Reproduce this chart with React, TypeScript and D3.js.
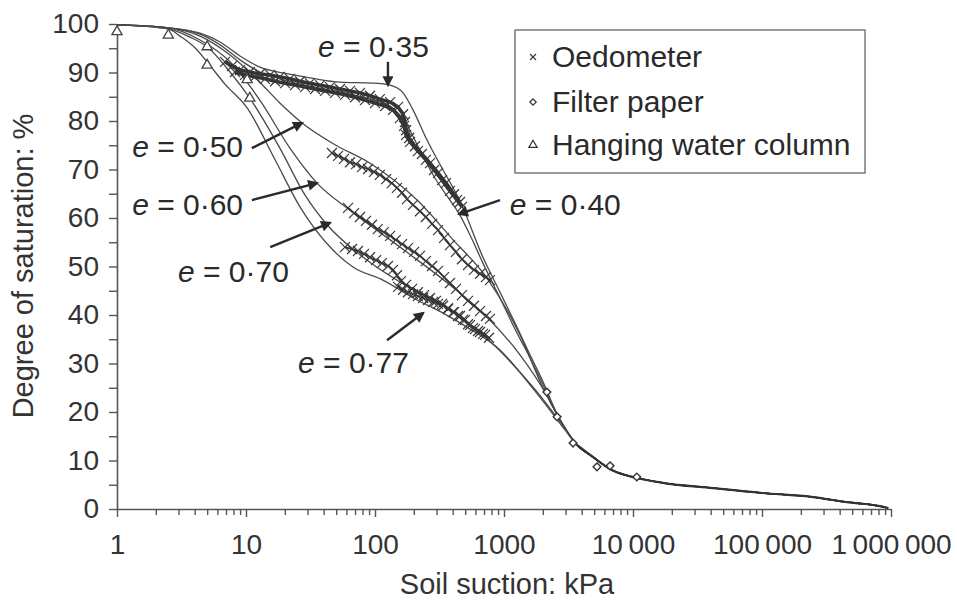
import React, { useEffect, useRef } from "react";
import * as d3 from "d3";

// [suction kPa, degree of saturation %]
const fit035 = [[1,99.8],[2.5,99.2],[4.4,98.1],[6.29,96.3],[8.98,93.4],[12.8,91.1],[19.4,89.9],[31.3,88.9],[53.5,88.0],[96.5,87.8],[131,87.4],[165,85.8],[197,82.3],[253,76.1],[337,69.9],[456,63.5],[687,51.9],[931,44.7],[1260,37.5],[1590,31.8],[2010,26.2],[2400,21.4],[2870,17.3],[3680,13.2]];
const fit040 = [[1,99.8],[2.5,99.2],[4.4,97.9],[6.29,95.7],[8.98,92.6],[12.8,90.1],[19.4,88.5],[31.3,87.2],[53.5,86.0],[91.5,84.5],[131,83.1],[171,79.8],[223,74.0],[292,68.2],[381,63.7],[446,61.0],[545,56.5],[687,50.7],[931,43.5],[1260,36.3],[1590,31.2],[2010,25.6],[2400,21.0],[2870,17.3],[3680,13.2]];
const fit050 = [[1,99.8],[2.5,99.2],[4.4,97.5],[7.52,93.6],[12.8,88.0],[18.3,83.7],[27.2,79.6],[49,75.1],[91.5,71.3],[212,63.7],[403,55.5],[738,47.6],[1330,35.9],[2010,24.9],[2720,18.4],[3680,13.2]];
const fit060 = [[1,99.8],[2.5,99.2],[4.4,96.7],[7.52,92.2],[12.8,84.3],[21.9,74.4],[35.5,67.2],[64,61.6],[156,54.0],[381,46.2],[738,39.6],[1330,31.8],[2080,24.1],[2720,18.4],[3680,13.2]];
const fit070 = [[1,99.8],[2.5,99.0],[3.68,97.3],[4.99,95.3],[7.52,90.1],[10.7,84.7],[18.3,74.4],[28.7,64.7],[42.5,58.6],[76.5,52.4],[156,46.8],[319,42.5],[687,35.9],[1330,28.2],[2080,22.1],[2720,18.0],[3680,13.2]];
const fit077 = [[1,99.8],[2.5,99.0],[3.08,97.5],[4.02,95.1],[4.99,92.2],[6.87,87.6],[10.2,82.7],[16.8,72.0],[26.2,62.3],[47.2,53.4],[67.5,49.9],[115,47.2],[212,43.1],[337,40.4],[517,37.5],[931,32.8],[1590,25.6],[2270,20.4],[2970,16.3],[3680,13.2]];
// common high-suction branch of all fitted curves
const fitTail = [[4900,10.7],[6900,8.0],[10700,6.4],[17000,5.4],[41700,4.3],[100000,3.3],[242000,2.5],[456000,1.4],[820000,0.6],[950000,0.2]];

const oed035 = [[6.87,92.2],[7.79,91.3],[8.98,90.5],[10.7,90.1],[12.8,89.7],[15.4,89.5],[18.3,89.1],[21.9,88.7],[26.2,88.2],[31.3,87.8],[37.5,87.4],[44.8,87.0],[53.5,86.6],[64.0,86.2],[76.5,85.8],[91.5,85.2],[109,84.5],[131,83.9],[151,82.9],[165,81.4],[171,79.8],[174,78.1],[184,76.5],[204,74.8],[231,73.2],[267,71.3],[308,69.3],[355,67.2],[410,64.9],[456,63.3]];
const oed040 = [[8.22,90.1],[9.83,89.5],[11.7,89.1],[14.0,88.7],[16.8,88.2],[20.1,87.8],[24.0,87.4],[28.7,87.0],[34.3,86.6],[41.0,86.2],[49.0,85.8],[58.5,85.4],[70.0,84.9],[83.6,84.3],[100,83.7],[120,83.1],[138,82.3],[156,80.6],[168,79.0],[174,77.1],[187,75.7],[215,73.8],[248,72.0],[287,69.9],[331,67.8],[381,65.6],[432,63.7],[472,62.3]];
const oed050 = [[46.4,73.4],[51.7,72.8],[57.5,72.2],[64.0,71.5],[71.3,71.1],[79.3,70.5],[88.3,70.1],[98.2,69.5],[109,68.9],[122,68.0],[135,67.2],[148,66.2],[162,65.2],[177,63.9],[197,62.7],[223,61.4],[248,60.2],[277,58.8],[308,57.5],[343,55.9],[381,54.4],[424,53.0],[472,51.5],[526,50.3],[585,49.3],[652,48.5],[725,47.8],[778,47.2]];
const oed060 = [[61.8,62.1],[68.8,61.0],[76.5,60.2],[85.1,59.4],[94.8,58.6],[105,57.7],[117,57.1],[131,56.3],[145,55.5],[162,54.6],[180,53.8],[201,53.0],[223,52.2],[248,51.1],[277,50.1],[308,49.1],[343,47.8],[381,46.6],[424,45.4],[472,44.1],[526,42.9],[585,41.9],[652,40.8],[725,39.8],[778,39.2]];
const oed070 = [[58.5,54.0],[66.4,53.6],[73.8,53.2],[82.2,52.6],[91.5,51.9],[102,51.3],[113,50.7],[126,50.1],[138,49.3],[148,48.2],[159,47.0],[174,46.2],[194,45.4],[215,44.7],[240,44.1],[267,43.5],[297,42.9],[331,42.3],[368,41.4],[410,40.6],[456,39.8],[499,39.0],[545,37.9],[596,37.1],[652,36.5],[713,35.9],[765,35.3]];
const oed077 = [[151,45.8],[165,45.2],[180,44.7],[197,44.3],[215,43.9],[236,43.5],[258,43.1],[282,42.7],[308,42.3],[337,41.9],[368,41.2],[403,40.6],[440,39.8],[481,39.0],[526,38.1],[575,37.3],[629,36.7],[687,36.1]];
const filterPaper = [[2150,24.1],[2580,19.0],[3430,13.6],[5260,8.7],[6640,8.9],[10700,6.6]];
const hangingColumn = [[1,98.4],[2.5,97.7],[5.0,95.3],[5.0,91.5],[10.2,88.5],[10.7,84.7]];

// void ratio call-outs: label, text start, arrow tail, arrow tip (data units)
const annLabels = ["0·35", "0·40", "0·50", "0·60", "0·70", "0·77"];
const annText = [[36.2,93.2],[1110,60.6],[1.31,72.6],[1.31,60.6],[2.97,46.8],[25.3,28.0]];
const annFrom = [[126,92.2],[931,63.7],[11.1,74.4],[11.1,63.7],[15.4,54.0],[124,34.8]];
const annTo = [[126,87.4],[448,60.8],[27.2,79.6],[35.5,67.2],[44.8,59.0],[236,40.4]];

const legendLabels = ["Oedometer", "Filter paper", "Hanging water column"];

export default function App() {
  const ref = useRef<SVGSVGElement>(null);

  useEffect(() => {
    const svg = d3.select(ref.current);
    svg.selectAll("*").remove();

    const font = "'Liberation Sans', Arial, sans-serif";
    const ink = "#2a2a2a";
    const x = d3.scaleLog().domain([1, 1e6]).range([117, 891]);
    const y = d3.scaleLinear().domain([0, 100]).range([509, 24]);

    svg.append("rect").attr("width", 957).attr("height", 601).attr("fill", "#fff");

    const defs = svg.append("defs");
    defs.append("marker")
      .attr("id", "ah")
      .attr("viewBox", "0 0 10 10")
      .attr("refX", 8)
      .attr("refY", 5)
      .attr("markerWidth", 13)
      .attr("markerHeight", 11)
      .attr("markerUnits", "userSpaceOnUse")
      .attr("orient", "auto")
      .append("path")
      .attr("d", "M0,0L10,5L0,10z")
      .attr("fill", ink);

    // axes
    const gy = svg.append("g")
      .attr("transform", `translate(${x(1)},0)`)
      .call(d3.axisLeft(y)
        .tickValues(d3.range(0, 101, 5))
        .tickSize(8)
        .tickSizeOuter(0)
        .tickPadding(10)
        .tickFormat((d: any) => (d % 10 === 0 ? String(d) : "")));

    const decades = [1, 10, 100, 1000, 10000, 100000];
    const xTicks = decades.flatMap(d => d3.range(1, 10).map(k => k * d)).concat([1e6]);
    const isMajor = (v: number) => Math.abs(Math.log10(v) - Math.round(Math.log10(v))) < 1e-9;
    const gx = svg.append("g")
      .attr("transform", `translate(0,${y(0)})`)
      .call(d3.axisBottom(x)
        .tickValues(xTicks)
        .tickSize(8)
        .tickSizeOuter(0)
        .tickPadding(17)
        .tickFormat((d: any) => {
          if (!isMajor(d)) return "";
          return d >= 10000 ? d3.format(",")(d).replace(/,/g, "\u2009") : String(d);
        }));
    gx.selectAll(".tick line").attr("y2", (d: any) => (isMajor(d) ? 8 : 6));

    [gx, gy].forEach(g => {
      g.select(".domain").attr("stroke", "#555").attr("stroke-width", 1.6);
      g.selectAll(".tick line").attr("stroke", "#555").attr("stroke-width", 1.4);
      g.selectAll(".tick text").attr("fill", "#333").style("font-family", font).style("font-size", "28px");
    });

    svg.append("text")
      .attr("transform", "translate(33,266) rotate(-90)")
      .attr("text-anchor", "middle")
      .attr("fill", "#333")
      .style("font-family", font)
      .style("font-size", "29px")
      .text("Degree of saturation: %");

    svg.append("text")
      .attr("x", 507)
      .attr("y", 594)
      .attr("text-anchor", "middle")
      .attr("fill", "#333")
      .style("font-family", font)
      .style("font-size", "29px")
      .text("Soil suction: kPa");

    // fitted curves
    const line = d3.line<number[]>()
      .x(d => x(d[0]))
      .y(d => y(d[1]))
      .curve(d3.curveMonotoneX);

    [fit035, fit040, fit050, fit060, fit070, fit077].forEach(f => {
      svg.append("path")
        .datum(f.concat(fitTail))
        .attr("fill", "none")
        .attr("stroke", "#4a4a4a")
        .attr("stroke-width", 1.3)
        .attr("d", line);
    });
    svg.append("path")
      .datum([[3680, 13.2]].concat(fitTail))
      .attr("fill", "none")
      .attr("stroke", "#333")
      .attr("stroke-width", 2.2)
      .attr("d", line);

    // oedometer data: dense crosses with a dark core
    const cross = (s: number) => `M${-s},${-s}L${s},${s}M${-s},${s}L${s},${-s}`;
    const oedSeries = [oed035, oed040, oed050, oed060, oed070, oed077];
    const coreWidth = [3.5, 3.5, 1.8, 1.6, 1.8, 1.2];
    const link = d3.line<number[]>().x(d => x(d[0])).y(d => y(d[1]));
    oedSeries.forEach((series, i) => {
      svg.append("path")
        .datum(series)
        .attr("fill", "none")
        .attr("stroke", "#333")
        .attr("stroke-width", coreWidth[i])
        .attr("d", link);
      svg.append("g")
        .selectAll("path")
        .data(series)
        .enter().append("path")
        .attr("transform", d => `translate(${x(d[0])},${y(d[1])})`)
        .attr("d", cross(5))
        .attr("stroke", "#383838")
        .attr("stroke-width", 1.2)
        .attr("fill", "none");
    });

    const diamond = d3.symbol(d3.symbolSquare, 30)();
    svg.append("g")
      .selectAll("path")
      .data(filterPaper)
      .enter().append("path")
      .attr("transform", d => `translate(${x(d[0])},${y(d[1])}) rotate(45)`)
      .attr("d", diamond)
      .attr("fill", "#fff")
      .attr("stroke", "#333")
      .attr("stroke-width", 1.4);

    svg.append("g")
      .selectAll("path")
      .data(hangingColumn)
      .enter().append("path")
      .attr("transform", d => `translate(${x(d[0])},${y(d[1])})`)
      .attr("d", d3.symbol(d3.symbolTriangle, 45)())
      .attr("fill", "#fff")
      .attr("stroke", "#444")
      .attr("stroke-width", 1.3);

    // call-outs
    annLabels.forEach((lab, i) => {
      svg.append("line")
        .attr("x1", x(annFrom[i][0]))
        .attr("y1", y(annFrom[i][1]))
        .attr("x2", x(annTo[i][0]))
        .attr("y2", y(annTo[i][1]))
        .attr("stroke", ink)
        .attr("stroke-width", 2.4)
        .attr("marker-end", "url(#ah)");
      const t = svg.append("text")
        .attr("x", x(annText[i][0]))
        .attr("y", y(annText[i][1]))
        .attr("fill", ink)
        .style("font-family", font)
        .style("font-size", "30px");
      t.append("tspan").style("font-style", "italic").text("e");
      t.append("tspan").text(` = ${lab}`);
    });

    // legend
    const lg = svg.append("g");
    lg.append("rect")
      .attr("x", 515).attr("y", 30)
      .attr("width", 350).attr("height", 143)
      .attr("fill", "#fff")
      .attr("stroke", "#666")
      .attr("stroke-width", 1.3);
    const rowY = [57, 102, 145];
    lg.append("path").attr("transform", `translate(533,${rowY[0]})`).attr("d", cross(3))
      .attr("stroke", "#333").attr("stroke-width", 1.1);
    lg.append("path").attr("transform", `translate(533,${rowY[1]}) rotate(45)`).attr("d", d3.symbol(d3.symbolSquare, 20)())
      .attr("fill", "#fff").attr("stroke", "#333").attr("stroke-width", 1.2);
    lg.append("path").attr("transform", `translate(533,${rowY[2]})`).attr("d", d3.symbol(d3.symbolTriangle, 30)())
      .attr("fill", "#fff").attr("stroke", "#333").attr("stroke-width", 1.2);
    legendLabels.forEach((lab, i) => {
      lg.append("text")
        .attr("x", 552)
        .attr("y", rowY[i] + 10)
        .attr("fill", ink)
        .style("font-family", font)
        .style("font-size", "30px")
        .text(lab);
    });
  }, []);

  return (
    <div style={{ position: "absolute", left: 0, top: 0 }}>
      <svg ref={ref} width={957} height={601} />
    </div>
  );
}
